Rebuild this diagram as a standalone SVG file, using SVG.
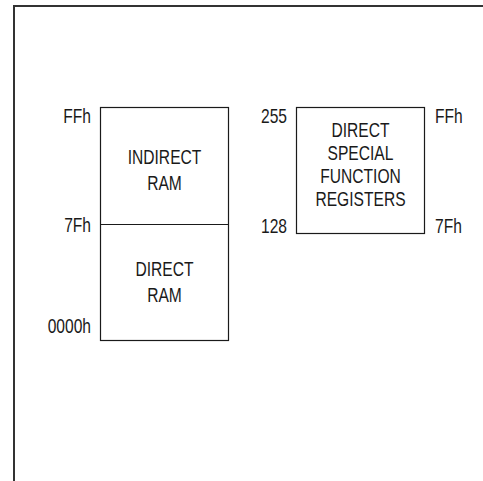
<svg xmlns="http://www.w3.org/2000/svg" width="483" height="481" viewBox="0 0 483 481">
<style>
text{font-family:"Liberation Sans",Arial,sans-serif;font-size:20px;fill:#1a1a1a}
.c{text-anchor:middle}
.r{text-anchor:end}
.box{fill:none;stroke:#1a1a1a;stroke-width:1.2}
.frame{fill:none;stroke:#333;stroke-width:2}
</style>
<rect width="483" height="481" fill="#fff"/>
<g id="frame"><path class="frame" d="M14,481 V6 H483"/></g>
<g id="ram">
<rect class="box" x="100.5" y="107.5" width="128" height="233"/>
<line class="box" x1="100.5" y1="224.5" x2="228.5" y2="224.5"/>
<text class="c" transform="translate(164.5,164) scale(0.78,1)">INDIRECT</text>
<text class="c" transform="translate(164.5,190) scale(0.78,1)">RAM</text>
<text class="c" transform="translate(164.5,276) scale(0.78,1)">DIRECT</text>
<text class="c" transform="translate(164.5,302) scale(0.78,1)">RAM</text>
<text class="r" transform="translate(91,123) scale(0.78,1)">FFh</text>
<text class="r" transform="translate(91,232) scale(0.78,1)">7Fh</text>
<text class="r" transform="translate(91,333) scale(0.78,1)">0000h</text>
</g>
<g id="sfr">
<rect class="box" x="296.5" y="107.5" width="128" height="126"/>
<text class="c" transform="translate(360.5,137) scale(0.78,1)">DIRECT</text>
<text class="c" transform="translate(360.5,160) scale(0.78,1)">SPECIAL</text>
<text class="c" transform="translate(360.5,183) scale(0.78,1)">FUNCTION</text>
<text class="c" transform="translate(360.5,206) scale(0.78,1)">REGISTERS</text>
<text class="r" transform="translate(287,123) scale(0.78,1)">255</text>
<text class="r" transform="translate(287,233) scale(0.78,1)">128</text>
<text transform="translate(435,123) scale(0.78,1)">FFh</text>
<text transform="translate(435,233) scale(0.78,1)">7Fh</text>
</g>
</svg>
